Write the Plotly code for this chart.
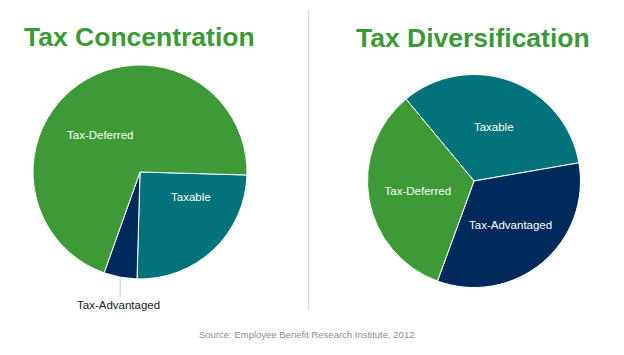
import plotly.graph_objects as go
import math

# Data
labels = ["Taxable", "Tax-Advantaged", "Tax-Deferred"]
concentration_values = [25, 5, 70]
diversification_values = [33.3, 33.3, 33.4]
titles = ["Tax Concentration", "Tax Diversification"]
source_text = "Source: Employee Benefit Research Institute, 2012"

colors = ["#02737b", "#002a5c", "#3e9a36"]
W, H = 624, 355
FONT = "Liberation Sans, Arial, sans-serif"

left_dom = dict(x=[33 / W, 247 / W], y=[1 - 279 / H, 1 - 65 / H])
right_dom = dict(x=[367.5 / W, 580.5 / W], y=[1 - 287.5 / H, 1 - 74.5 / H])

fig = go.Figure()
fig.add_trace(go.Pie(
    labels=labels, values=concentration_values, sort=False,
    direction="clockwise", rotation=91.6, domain=left_dom,
    marker=dict(colors=colors, line=dict(color="white", width=1)),
    textinfo="none",
    showlegend=False, hoverinfo="label+percent",
))
fig.add_trace(go.Pie(
    labels=labels, values=diversification_values, sort=False,
    direction="clockwise", rotation=-39.7, domain=right_dom,
    marker=dict(colors=colors, line=dict(color="white", width=1)),
    textinfo="label", textposition="inside",
    insidetextorientation="horizontal",
    insidetextfont=dict(color="white", size=11.5, family=FONT),
    showlegend=False, hoverinfo="label+percent",
))

# leader line for the small slice (derived from data)
tot = sum(concentration_values)
start = 91.6 + 360 * concentration_values[0] / tot
mid = math.radians(start + 180 * concentration_values[1] / tot)
cx = (left_dom["x"][0] + left_dom["x"][1]) / 2 * W
cy = (1 - (left_dom["y"][0] + left_dom["y"][1]) / 2) * H
r = (left_dom["x"][1] - left_dom["x"][0]) / 2 * W
px = cx + r * math.sin(mid)
py = cy - r * math.cos(mid)

shapes = [
    dict(type="line", xref="paper", yref="paper", x0=308.5 / W, x1=308.5 / W,
         y0=1 - 10 / H, y1=1 - 310 / H, line=dict(color="#d9d9d9", width=1.5)),
    dict(type="line", xref="paper", yref="paper", x0=px / W, x1=px / W,
         y0=1 - (py + 1) / H, y1=1 - 297 / H, line=dict(color="#d9d9d9", width=1.5)),
]

def lbl(text, x, y, color="white"):
    return dict(text=text, x=x / W, y=1 - y / H, xref="paper", yref="paper",
                showarrow=False, xanchor="center", yanchor="middle",
                font=dict(size=11.5, color=color, family=FONT))

annotations = [
    dict(text=f"<b>{titles[0]}</b>", x=139.5 / W, y=1 - 37 / H, xref="paper", yref="paper",
         showarrow=False, xanchor="center", yanchor="middle",
         font=dict(size=26.5, color="#3a9a36", family=FONT)),
    dict(text=f"<b>{titles[1]}</b>", x=473 / W, y=1 - 38 / H, xref="paper", yref="paper",
         showarrow=False, xanchor="center", yanchor="middle",
         font=dict(size=26.5, color="#3a9a36", family=FONT)),
    dict(text=source_text, x=306 / W, y=1 - 334 / H, xref="paper", yref="paper",
         showarrow=False, xanchor="center", yanchor="middle",
         font=dict(size=9.5, color="#8c8c8c", family=FONT)),
    lbl(labels[2], 100, 135),
    lbl(labels[0], 191, 197),
    lbl(labels[1], 118, 305, color="#1a1a1a"),
]

fig.update_layout(
    width=W, height=H, margin=dict(l=0, r=0, t=0, b=0),
    paper_bgcolor="white", plot_bgcolor="white",
    shapes=shapes, annotations=annotations,
)
fig.write_html("out.html", config={"displayModeBar": False},
               post_script="document.body.style.margin='0';")
